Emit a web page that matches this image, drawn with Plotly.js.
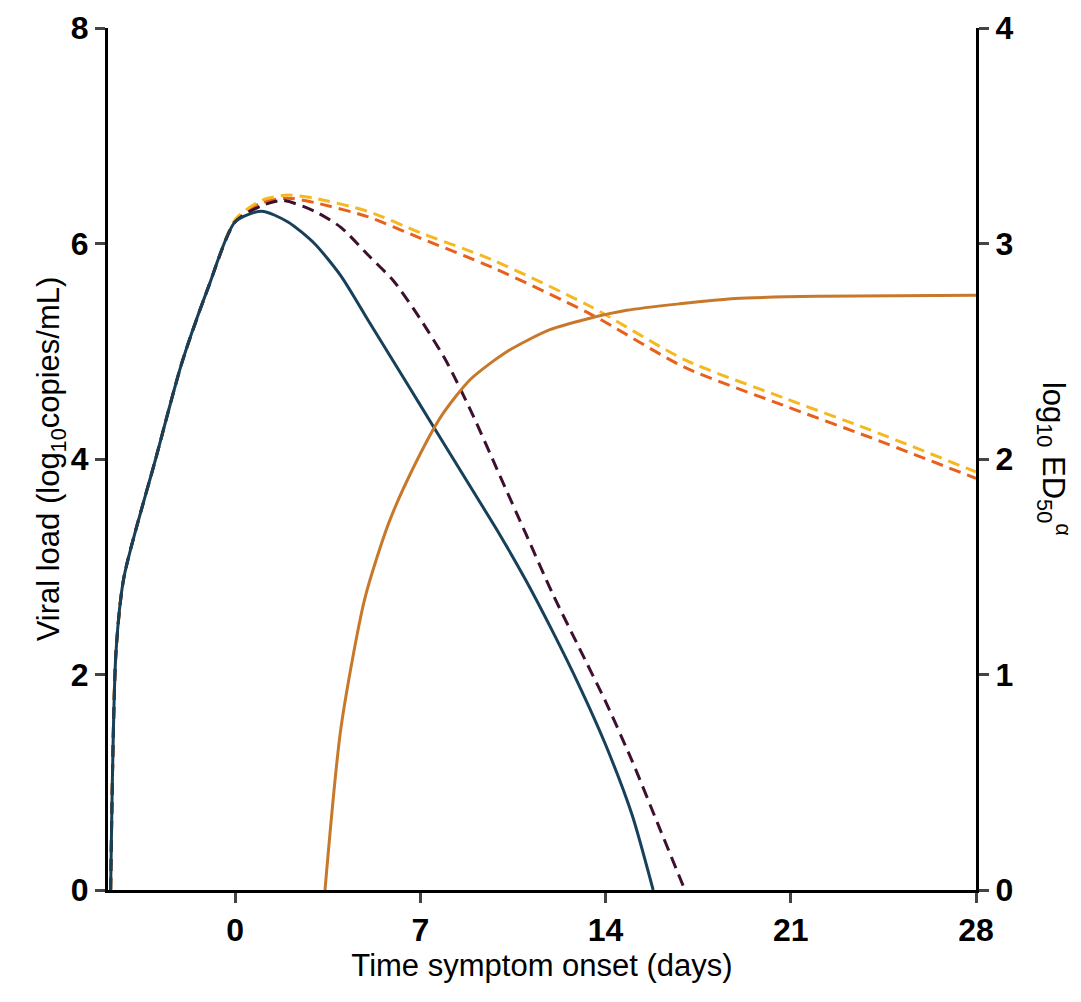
<!DOCTYPE html>
<html>
<head>
<script src="https://cdn.plot.ly/plotly-3.0.1.min.js"></script>
<style>body{margin:0}</style>
</head>
<body>
<div id="chart" style="width:1081px;height:1002px"></div>
<script>
// viral load curves (log10 copies/mL)
var navyX = [-4.7, -4.5, -4.2, -3, -2, -1, 0, 1, 2, 3, 4, 5, 6, 7, 8, 9, 10, 11, 12, 13, 14, 15, 15.8];
var navyY = [0, 2.2, 2.9, 4.0, 4.9, 5.6, 6.2, 6.3, 6.2, 6.0, 5.7, 5.3, 4.9, 4.5, 4.1, 3.7, 3.3, 2.87, 2.4, 1.9, 1.35, 0.7, 0];
var purpleX = [-4.7, -4.5, -4.2, -3, -2, -1, 0, 1, 1.8, 3, 4, 5, 6, 7, 8, 9, 10, 11, 12, 13, 14, 15, 16, 17];
var purpleY = [0, 2.2, 2.9, 4.0, 4.9, 5.6, 6.2, 6.35, 6.4, 6.3, 6.15, 5.9, 5.65, 5.3, 4.9, 4.4, 3.85, 3.3, 2.75, 2.25, 1.75, 1.2, 0.6, 0];
var orangeX = [-4.7, -4.5, -4.2, -3, -2, -1, 0, 1, 2, 3, 5, 7, 9.7, 13.4, 17, 20.7, 24, 28];
var orangeY = [0, 2.2, 2.9, 4.0, 4.9, 5.6, 6.2, 6.38, 6.42, 6.38, 6.25, 6.05, 5.78, 5.35, 4.85, 4.5, 4.2, 3.82];
var yellowX = [-4.7, -4.5, -4.2, -3, -2, -1, 0, 1, 2, 3, 5, 7, 9.7, 13.4, 17, 20.7, 24, 28];
var yellowY = [0, 2.2, 2.9, 4.0, 4.9, 5.6, 6.22, 6.4, 6.45, 6.42, 6.3, 6.1, 5.85, 5.42, 4.92, 4.57, 4.27, 3.88];
// ED50 (right axis)
var edX = [3.4, 4.0, 4.9, 5.8, 6.7, 7.8, 8.9, 10.3, 11.9, 13.3, 14.8, 16.8, 18.9, 22, 28];
var edY = [0, 0.75, 1.35, 1.7, 1.95, 2.2, 2.37, 2.5, 2.6, 2.65, 2.69, 2.72, 2.745, 2.755, 2.76];
var xTicks = [0, 7, 14, 21, 28];

var traces = [
  {x: orangeX, y: orangeY, mode: 'lines', line: {color: '#e8601c', width: 3, dash: '12px,7px', shape: 'spline', smoothing: 0.7}},
  {x: yellowX, y: yellowY, mode: 'lines', line: {color: '#f5b820', width: 3, dash: '12px,7px', shape: 'spline', smoothing: 0.7}},
  {x: purpleX, y: purpleY, mode: 'lines', line: {color: '#3d1030', width: 3, dash: '12px,7px', shape: 'spline', smoothing: 0.7}},
  {x: navyX, y: navyY, mode: 'lines', line: {color: '#17405a', width: 3, shape: 'spline', smoothing: 0.7}},
  {x: edX, y: edY, yaxis: 'y2', mode: 'lines', line: {color: '#c8782a', width: 3, shape: 'spline', smoothing: 0.7}}
];

var tickFont = {family: 'Liberation Sans, Arial', size: 32, color: '#000', weight: 700};
var titleFont = {family: 'Liberation Sans, Arial', size: 31, color: '#000'};
var layout = {
  width: 1081, height: 1002,
  showlegend: false,
  plot_bgcolor: '#fff', paper_bgcolor: '#fff',
  margin: {l: 108, r: 105, t: 28, b: 112},
  xaxis: {
    range: [-4.8, 28], tickvals: xTicks,
    showgrid: false, zeroline: false,
    showline: true, linecolor: '#000', linewidth: 3, ticks: 'outside', ticklen: 10, tickwidth: 3,
    tickfont: tickFont,
    title: {text: 'Time symptom onset (days)', font: titleFont, standoff: 2}
  },
  yaxis: {
    range: [0, 8], tickvals: [0, 2, 4, 6, 8], showgrid: false, zeroline: false,
    showline: true, linecolor: '#000', linewidth: 3, ticks: 'outside', ticklen: 10, tickwidth: 3,
    tickfont: tickFont,
    title: {text: 'Viral load (log<sub>10</sub>copies/mL)', font: titleFont, standoff: 2}
  },
  yaxis2: {
    range: [0, 4], tickvals: [0, 1, 2, 3, 4], overlaying: 'y', side: 'right', showgrid: false, zeroline: false,
    showline: true, linecolor: '#000', linewidth: 3, ticks: 'outside', ticklen: 10, tickwidth: 3,
    tickfont: tickFont
  },
  annotations: [{
    text: 'log<sub>10</sub> ED<sub>50</sub><sup>α</sup>', textangle: 90, showarrow: false,
    xref: 'paper', yref: 'paper', x: 1.09, y: 0.5, xanchor: 'center', yanchor: 'middle',
    font: titleFont
  }]
};

Plotly.newPlot('chart', traces, layout, {displayModeBar: false});
</script>
</body>
</html>
